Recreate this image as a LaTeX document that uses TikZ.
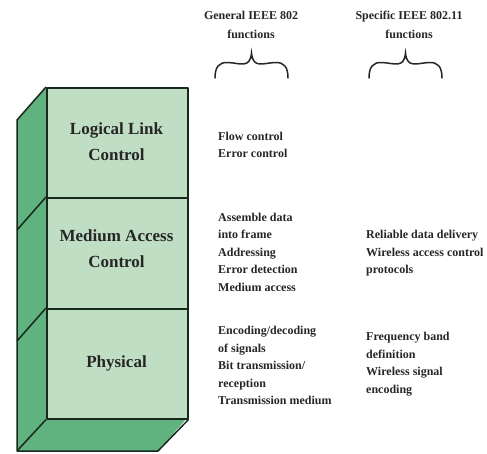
\documentclass[tikz,border=0pt]{standalone}
\usepackage{fontspec}
\setmainfont{Liberation Serif}
\definecolor{frontgreen}{RGB}{192,222,196}
\definecolor{sidegreen}{RGB}{96,178,126}
\definecolor{edge}{RGB}{25,40,30}
\begin{document}
\begin{tikzpicture}[x=1pt,y=-1pt,
  face/.style={draw=edge,line width=1.5pt,line join=round},
  layername/.style={font=\bfseries\fontsize{17}{26}\selectfont,align=center,inner sep=0pt,text=black!85},
  listtext/.style={font=\bfseries\fontsize{12}{17.5}\selectfont,align=left,anchor=north west,inner sep=0pt,text=black!85},
  headtext/.style={font=\bfseries\fontsize{12}{18.5}\selectfont,align=center,anchor=north,inner sep=0pt,text=black!85},
  bracepath/.style={draw=black!85,line width=1.5pt,line cap=round}]
\useasboundingbox (0,0) rectangle (487,453);
% side and bottom faces
\fill[sidegreen] (46,87) -- (17,120) -- (17,451) -- (46,418) -- cycle;
\fill[sidegreen] (46,418) -- (187,418) -- (158,451) -- (17,451) -- cycle;
% front faces
\node[face,fill=frontgreen,minimum width=141pt,minimum height=110pt,inner sep=0pt,anchor=north west] (llc) at (46,87) {};
\node[face,fill=frontgreen,minimum width=141pt,minimum height=111pt,inner sep=0pt,anchor=north west] (mac) at (46,197) {};
\node[face,fill=frontgreen,minimum width=141pt,minimum height=110pt,inner sep=0pt,anchor=north west] (phy) at (46,308) {};
% side edges
\draw[face] (llc.north west) -- (17,120) -- (17,451) -- (phy.south west);
\draw[face] (mac.north west) -- (17,230);
\draw[face] (phy.north west) -- (17,341);
\draw[face] (17,451) -- (158,451) -- (phy.south east);
% layer names
\node[layername] (llct) at (116.5,142) {Logical Link\\Control};
\node[layername] (mact) at (116.5,249) {Medium Access\\Control};
\node[layername] (phyt) at (116.5,363) {Physical};
% headings
\node[headtext] (h1) at (251,11) {General IEEE 802\\functions};
\node[headtext] (h2) at (409,11) {Specific IEEE 802.11\\functions};
% braces
\draw[bracepath] (215,78) .. controls (215,67) and (219,62) .. (228,62.5) .. controls (240,63) and (250,69) .. (251.5,53)
  .. controls (253,69) and (263,63) .. (275,62.5) .. controls (284,62) and (288,67) .. (288,78);
\draw[bracepath] (369,78) .. controls (369,67) and (373,62) .. (382,62.5) .. controls (394,63) and (404,69) .. (405.5,53)
  .. controls (407,69) and (417,63) .. (429,62.5) .. controls (438,62) and (442,67) .. (442,78);
% lists
\node[listtext] (l1) at (218,131.5) {Flow control\\Error control};
\node[listtext] (l2) at (218,212.5) {Assemble data\\into frame\\Addressing\\Error detection\\Medium access};
\node[listtext] (l3) at (366,230) {Reliable data delivery\\Wireless access control\\protocols};
\node[listtext] (l4) at (218,326) {Encoding/decoding\\of signals\\Bit transmission/\\reception\\Transmission medium};
\node[listtext] (l5) at (366,332) {Frequency band\\definition\\Wireless signal\\encoding};
\end{tikzpicture}
\end{document}
